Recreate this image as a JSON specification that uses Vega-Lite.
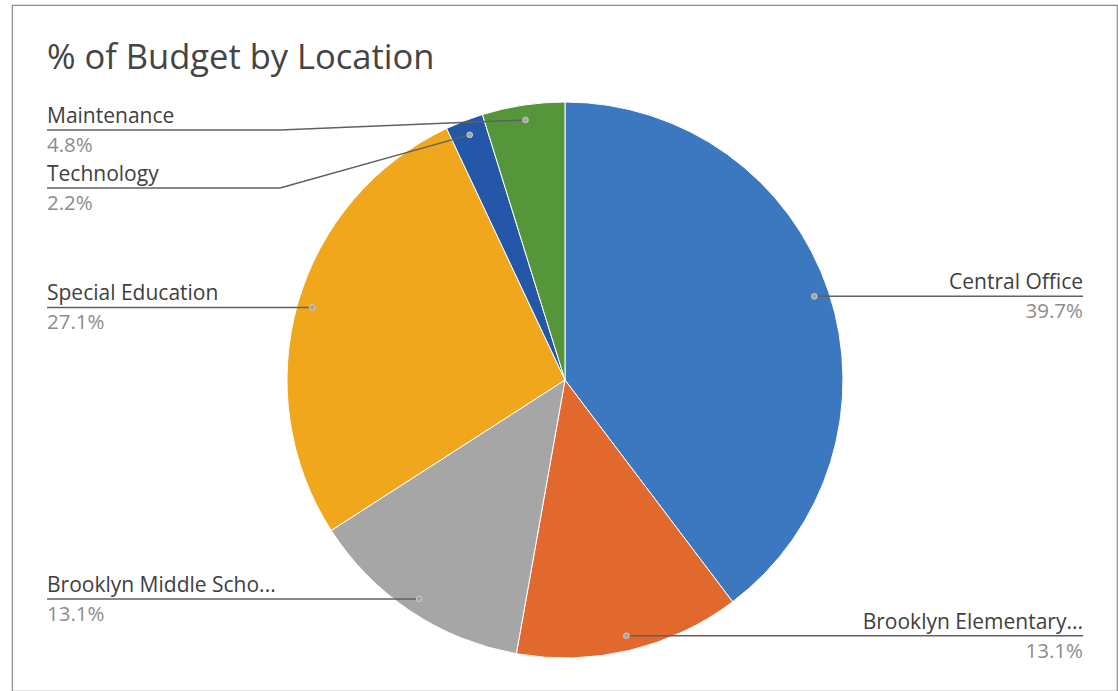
{
  "$schema": "https://vega.github.io/schema/vega-lite/v6.json",
  "autosize": {"type": "none"},
  "padding": {"left": 12, "top": 5, "right": 1, "bottom": 0},
  "width": 1105,
  "height": 686,
  "background": "white",
  "title": {
    "text": "% of Budget by Location",
    "anchor": "start",
    "frame": "group",
    "orient": "top",
    "offset": -63,
    "baseline": "alphabetic",
    "dx": 35,
    "dy": 35,
    "font": "Open Sans",
    "fontSize": 34.5,
    "fontWeight": "normal",
    "color": "#444444"
  },
  "config": {"view": {"stroke": "#8a8a8a", "strokeWidth": 1.2}},
  "data": {
    "values": [
      {"location": "Central Office", "label": "Central Office", "share": 0.397},
      {"location": "Brooklyn Elementary School", "label": "Brooklyn Elementary...", "share": 0.131},
      {"location": "Brooklyn Middle School", "label": "Brooklyn Middle Scho...", "share": 0.131},
      {"location": "Special Education", "label": "Special Education", "share": 0.271},
      {"location": "Technology", "label": "Technology", "share": 0.022},
      {"location": "Maintenance", "label": "Maintenance", "share": 0.048}
    ]
  },
  "transform": [
    {"window": [{"op": "sum", "field": "share", "as": "end"}], "frame": [null, 0]},
    {"calculate": "datum.end - datum.share", "as": "start"},
    {"calculate": "(datum.start + datum.share / 2) * 2 * PI", "as": "mid"},
    {"calculate": "263 * sin(datum.mid)", "as": "dotX"},
    {"calculate": "263 * cos(datum.mid)", "as": "dotY"},
    {"calculate": "datum.dotX >= 0 ? 1 : -1", "as": "side"},
    {"calculate": "min(datum.dotY, 250)", "as": "baseY"},
    {"window": [{"op": "lag", "field": "baseY", "param": 1, "as": "prevY"}], "groupby": ["side"], "sort": [{"field": "baseY", "order": "descending"}]},
    {"calculate": "datum.prevY == null ? datum.baseY : min(datum.baseY, datum.prevY - 58)", "as": "labelY"},
    {"calculate": "datum.side > 0 ? 518 : -518", "as": "edgeX"},
    {"calculate": "datum.side > 0 ? 298 : -285", "as": "elbowX"}
  ],
  "layer": [
    {
      "mark": {"type": "arc", "outerRadius": 278, "stroke": "white", "strokeWidth": 1},
      "encoding": {
        "x": {"datum": 0, "type": "quantitative", "scale": {"domain": [-553, 552], "nice": false, "zero": false}, "axis": null},
        "y": {"datum": 0, "type": "quantitative", "scale": {"domain": [-311, 375], "nice": false, "zero": false}, "axis": null},
        "theta": {"field": "start", "type": "quantitative", "scale": {"domain": [0, 1]}},
        "theta2": {"field": "end"},
        "color": {
          "field": "location",
          "type": "nominal",
          "legend": null,
          "scale": {
            "domain": ["Central Office", "Brooklyn Elementary School", "Brooklyn Middle School", "Special Education", "Technology", "Maintenance"],
            "range": ["#3b78bf", "#e1692e", "#a6a6a6", "#f0a71c", "#2557a8", "#56963a"]
          }
        }
      }
    },
    {
      "mark": {"type": "rule", "color": "#606060", "strokeWidth": 1.5},
      "encoding": {
        "x": {"field": "edgeX", "type": "quantitative", "scale": {"domain": [-553, 552], "nice": false, "zero": false}, "axis": null},
        "x2": {"field": "elbowX"},
        "y": {"field": "labelY", "type": "quantitative", "scale": {"domain": [-311, 375], "nice": false, "zero": false}, "axis": null}
      }
    },
    {
      "mark": {"type": "rule", "color": "#606060", "strokeWidth": 1.5},
      "encoding": {
        "x": {"field": "elbowX", "type": "quantitative", "scale": {"domain": [-553, 552], "nice": false, "zero": false}, "axis": null},
        "x2": {"field": "dotX"},
        "y": {"field": "labelY", "type": "quantitative", "scale": {"domain": [-311, 375], "nice": false, "zero": false}, "axis": null},
        "y2": {"field": "dotY"}
      }
    },
    {
      "mark": {"type": "circle", "size": 32, "color": "#a3a3a3", "stroke": "#d0d0d0", "strokeWidth": 1, "opacity": 1},
      "encoding": {
        "x": {"field": "dotX", "type": "quantitative", "scale": {"domain": [-553, 552], "nice": false, "zero": false}, "axis": null},
        "y": {"field": "dotY", "type": "quantitative", "scale": {"domain": [-311, 375], "nice": false, "zero": false}, "axis": null}
      }
    },
    {
      "transform": [{"filter": "datum.side < 0"}],
      "mark": {"type": "text", "align": "left", "baseline": "alphabetic", "dy": -7, "font": "Open Sans", "fontSize": 21, "color": "#404040"},
      "encoding": {
        "x": {"field": "edgeX", "type": "quantitative", "scale": {"domain": [-553, 552], "nice": false, "zero": false}, "axis": null},
        "y": {"field": "labelY", "type": "quantitative", "scale": {"domain": [-311, 375], "nice": false, "zero": false}, "axis": null},
        "text": {"field": "label"}
      }
    },
    {
      "transform": [{"filter": "datum.side < 0"}],
      "mark": {"type": "text", "align": "left", "baseline": "alphabetic", "dy": 22, "font": "Open Sans", "fontSize": 20.5, "color": "#8c8c8c"},
      "encoding": {
        "x": {"field": "edgeX", "type": "quantitative", "scale": {"domain": [-553, 552], "nice": false, "zero": false}, "axis": null},
        "y": {"field": "labelY", "type": "quantitative", "scale": {"domain": [-311, 375], "nice": false, "zero": false}, "axis": null},
        "text": {"field": "share", "format": ".1%"}
      }
    },
    {
      "transform": [{"filter": "datum.side > 0"}],
      "mark": {"type": "text", "align": "right", "baseline": "alphabetic", "dy": -7, "font": "Open Sans", "fontSize": 21, "color": "#404040"},
      "encoding": {
        "x": {"field": "edgeX", "type": "quantitative", "scale": {"domain": [-553, 552], "nice": false, "zero": false}, "axis": null},
        "y": {"field": "labelY", "type": "quantitative", "scale": {"domain": [-311, 375], "nice": false, "zero": false}, "axis": null},
        "text": {"field": "label"}
      }
    },
    {
      "transform": [{"filter": "datum.side > 0"}],
      "mark": {"type": "text", "align": "right", "baseline": "alphabetic", "dy": 22, "font": "Open Sans", "fontSize": 20.5, "color": "#8c8c8c"},
      "encoding": {
        "x": {"field": "edgeX", "type": "quantitative", "scale": {"domain": [-553, 552], "nice": false, "zero": false}, "axis": null},
        "y": {"field": "labelY", "type": "quantitative", "scale": {"domain": [-311, 375], "nice": false, "zero": false}, "axis": null},
        "text": {"field": "share", "format": ".1%"}
      }
    }
  ]
}
